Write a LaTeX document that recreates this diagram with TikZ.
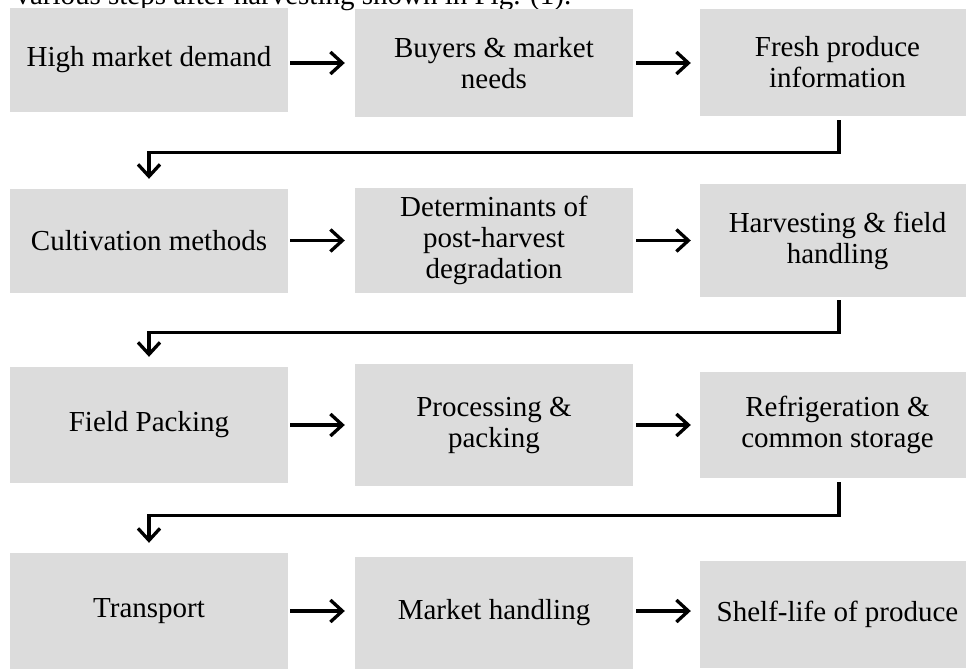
\documentclass[tikz,border=0pt]{standalone}
\usepackage{fontspec}
\setmainfont{Liberation Serif}
\usepackage{tikz}
\usetikzlibrary{arrows.meta,shapes}
\definecolor{boxgray}{RGB}{220,220,220}
\tikzset{
  stage/.style={fill=boxgray,inner sep=0pt,align=center,font=\fontsize{29bp}{31bp}\selectfont},
  flow/.style={line width=3.3bp,-{Straight Barb[length=12bp,width=22bp]}}
}

\begin{document}
\begin{tikzpicture}
\useasboundingbox (0,0) rectangle (966bp,-670bp);
\clip (0,0) rectangle (966bp,-670bp);
\node (intro) at (12bp,-4bp)[anchor=base west,font=\fontsize{29bp}{31bp}\selectfont] {various steps after harvesting shown in Fig. (1).};
\node (HMD) at (149bp,-60bp)[stage,minimum width=278bp,minimum height=104bp] {High market demand};
\node (BMN) at (494bp,-63bp)[stage,minimum width=278bp,minimum height=108bp] {Buyers \& market\\needs};
\node (FPI) at (837.5bp,-62.5bp)[stage,minimum width=275bp,minimum height=107bp] {Fresh produce\\information};
\node (CM) at (149bp,-241bp)[stage,minimum width=278bp,minimum height=104bp] {Cultivation methods};
\node (DPD) at (494bp,-240.5bp)[stage,minimum width=278bp,minimum height=105bp] {Determinants of\\post-harvest\\degradation};
\node (HFH) at (837.5bp,-240.5bp)[stage,minimum width=275bp,minimum height=113bp] {Harvesting \& field\\handling};
\node (FP) at (149bp,-425bp)[stage,minimum width=278bp,minimum height=116bp] {Field Packing};
\node (PP) at (494bp,-425bp)[stage,minimum width=278bp,minimum height=122bp] {Processing \&\\packing};
\node (RCS) at (837.5bp,-425bp)[stage,minimum width=275bp,minimum height=106bp] {Refrigeration \&\\common storage};
\node (TR) at (149bp,-611bp)[stage,minimum width=278bp,minimum height=116bp] {Transport};
\node (MH) at (494bp,-613bp)[stage,minimum width=278bp,minimum height=112bp] {Market handling};
\node (SLP) at (837.5bp,-614.5bp)[stage,minimum width=275bp,minimum height=107bp] {Shelf-life of produce};
\draw [flow,shorten <=2bp,shorten >=10bp] (BMN.west -| HMD.east) -- (BMN.west);
\draw [flow,shorten <=3bp,shorten >=9bp] (BMN.east) -- (BMN.east -| FPI.west);
\draw [flow,shorten <=2bp,shorten >=10bp] (DPD.west -| CM.east) -- (DPD.west);
\draw [flow,shorten <=3bp,shorten >=9bp] (DPD.east) -- (DPD.east -| HFH.west);
\draw [flow,shorten <=2bp,shorten >=10bp] (PP.west -| FP.east) -- (PP.west);
\draw [flow,shorten <=3bp,shorten >=9bp] (PP.east) -- (PP.east -| RCS.west);
\draw [flow,shorten <=2bp,shorten >=10bp] ([yshift=2bp]MH.west -| TR.east) -- ([yshift=2bp]MH.west);
\draw [flow,shorten <=3bp,shorten >=9bp] ([yshift=2bp]MH.east) -- ([yshift=2bp]MH.east -| SLP.west);
\draw [flow] ([xshift=1.5bp,yshift=-4bp]FPI.south) -- ++(0,-32bp) -| ([yshift=10bp]CM.north);
\draw [flow] ([xshift=1.5bp,yshift=-3bp]HFH.south) -- ++(0,-32bp) -| ([yshift=10bp]FP.north);
\draw [flow] ([xshift=1.5bp,yshift=-4bp]RCS.south) -- ++(0,-33bp) -| ([yshift=10bp]TR.north);
\end{tikzpicture}
\end{document}
